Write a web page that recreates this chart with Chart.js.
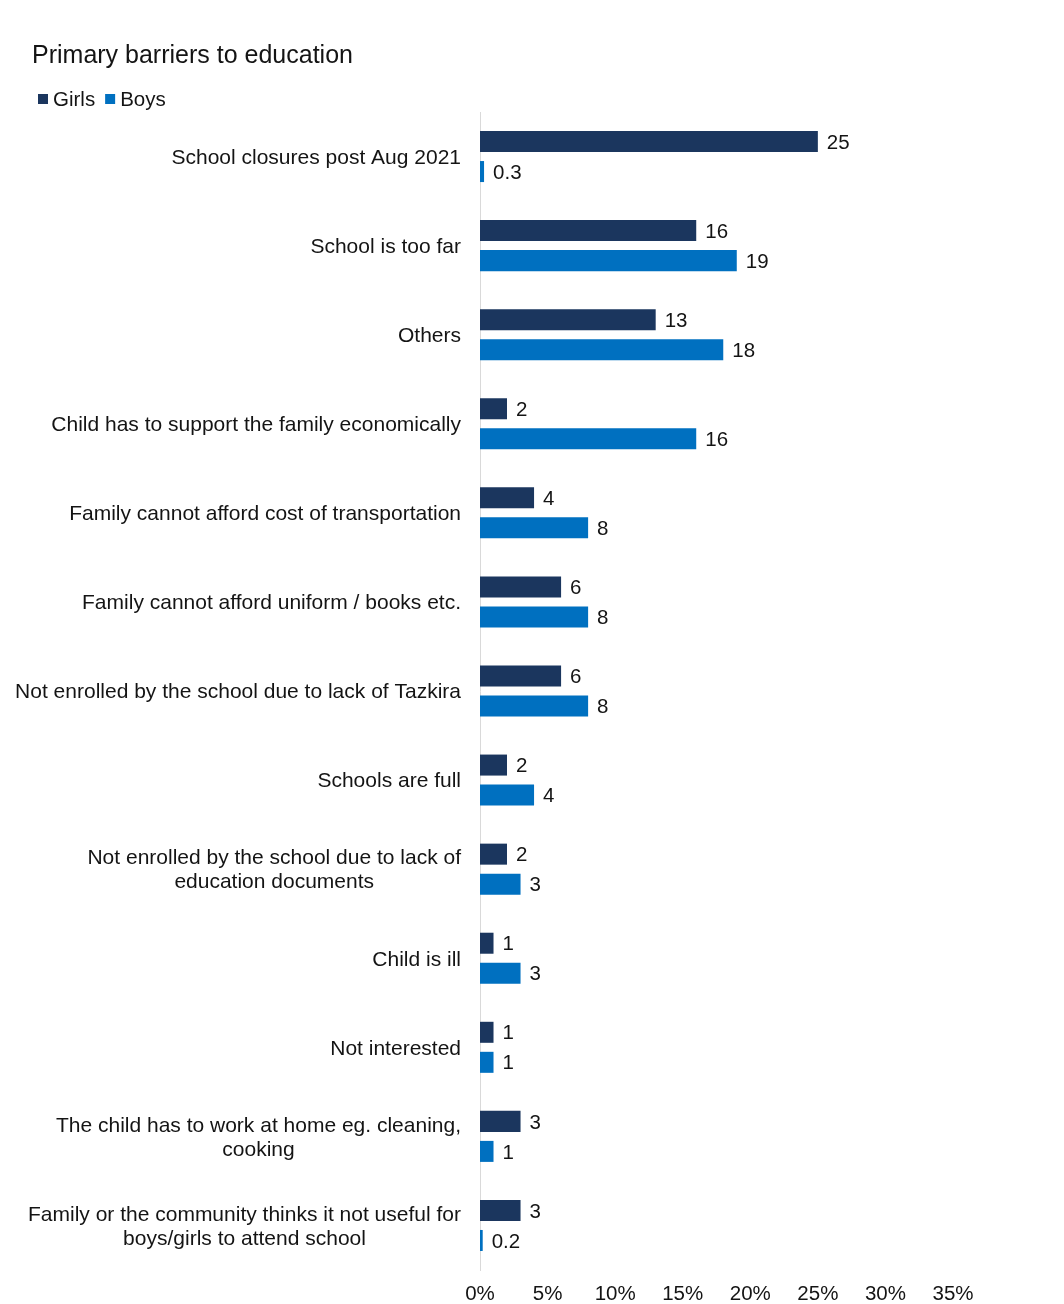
<!DOCTYPE html>
<html>
<head>
<meta charset="utf-8">
<title>Primary barriers to education</title>
<script src="https://cdn.jsdelivr.net/npm/chart.js@4.4.1/dist/chart.umd.min.js"></script>
<style>
  html, body { margin: 0; padding: 0; background: #ffffff; }
  canvas { display: block; }
</style>
</head>
<body>
<canvas id="barriersChart" width="1064" height="1304"></canvas>
<script>
const chartTitle = 'Primary barriers to education';

const categories = [
  'School closures post Aug 2021',
  'School is too far',
  'Others',
  'Child has to support the family economically',
  'Family cannot afford cost of transportation',
  'Family cannot afford uniform / books etc.',
  'Not enrolled by the school due to lack of Tazkira',
  'Schools are full',
  ['Not enrolled by the school due to lack of', 'education documents'],
  'Child is ill',
  'Not interested',
  ['The child has to work at home eg. cleaning,', 'cooking'],
  ['Family or the community thinks it not useful for', 'boys/girls to attend school']
];

const girlsValues = [25, 16, 13, 2, 4, 6, 6, 2, 2, 1, 1, 3, 3];
const boysValues = [0.3, 19, 18, 16, 8, 8, 8, 4, 3, 3, 1, 1, 0.2];

// percentage axis: 0% .. 35% in steps of 5
const xMax = 35;
const xStep = 5;

const FONT_FAMILY = '"Liberation Sans", Arial, Helvetica, sans-serif';
const FONT_SIZE = 20.5;
const LABEL_SIZE = 21;
const TEXT_COLOR = '#141414';

// title, legend, category names and value labels are painted here
const annotatePlugin = {
  id: 'annotate',
  afterDraw(chart) {
    const ctx = chart.ctx;
    const area = chart.chartArea;
    const yScale = chart.scales.y;
    ctx.save();
    ctx.textBaseline = 'middle';
    ctx.textAlign = 'left';
    ctx.fillStyle = TEXT_COLOR;

    ctx.font = `25px ${FONT_FAMILY}`;
    ctx.fillText(chartTitle, 32, 56);

    ctx.font = `${FONT_SIZE}px ${FONT_FAMILY}`;
    let lx = 38;
    chart.data.datasets.forEach(ds => {
      ctx.fillStyle = ds.backgroundColor;
      ctx.fillRect(lx, 94, 10, 10);
      ctx.fillStyle = TEXT_COLOR;
      ctx.fillText(ds.label, lx + 15, 100.5);
      lx += 15 + ctx.measureText(ds.label).width + 10;
    });

    // category names: block right-aligned to the axis, lines centred inside it
    ctx.font = `${LABEL_SIZE}px ${FONT_FAMILY}`;
    const rightEdge = area.left - 19;
    chart.data.labels.forEach((label, i) => {
      const lines = Array.isArray(label) ? label : [label];
      const blockWidth = Math.max(...lines.map(l => ctx.measureText(l).width));
      const cx = rightEdge - blockWidth / 2;
      const y0 = yScale.getPixelForValue(i) + 1.5 - (lines.length - 1) * 12;
      ctx.textAlign = 'center';
      lines.forEach((line, k) => ctx.fillText(line, cx, y0 + k * 24));
    });

    ctx.font = `${FONT_SIZE}px ${FONT_FAMILY}`;
    ctx.textAlign = 'left';
    chart.data.datasets.forEach((ds, d) => {
      const meta = chart.getDatasetMeta(d);
      meta.data.forEach((bar, i) => {
        ctx.fillText(String(ds.data[i]), bar.x + 9, bar.y + 1.5);
      });
    });
    ctx.restore();
  }
};

new Chart(document.getElementById('barriersChart'), {
  type: 'bar',
  data: {
    labels: categories,
    datasets: [
      {
        label: 'Girls',
        data: girlsValues,
        backgroundColor: '#1b365e',
        categoryPercentage: 0.674,
        barPercentage: 0.7
      },
      {
        label: 'Boys',
        data: boysValues,
        backgroundColor: '#0070c0',
        categoryPercentage: 0.674,
        barPercentage: 0.7
      }
    ]
  },
  options: {
    indexAxis: 'y',
    responsive: false,
    animation: false,
    layout: {
      padding: { top: 112, right: 111, bottom: 0, left: 0 }
    },
    scales: {
      x: {
        min: 0,
        max: xMax,
        ticks: {
          stepSize: xStep,
          padding: 12,
          color: TEXT_COLOR,
          font: { family: FONT_FAMILY, size: FONT_SIZE },
          callback: value => `${value}%`
        },
        grid: { display: false, drawTicks: false },
        border: { display: false },
        afterFit: scale => { scale.height = 34; }
      },
      y: {
        ticks: { display: false },
        grid: { display: false, drawTicks: false },
        border: { display: true, color: '#d9d9d9', width: 1 },
        afterFit: scale => { scale.width = 480; }
      }
    },
    plugins: {
      legend: { display: false },
      title: { display: false },
      tooltip: { enabled: false }
    }
  },
  plugins: [annotatePlugin]
});
</script>
</body>
</html>
